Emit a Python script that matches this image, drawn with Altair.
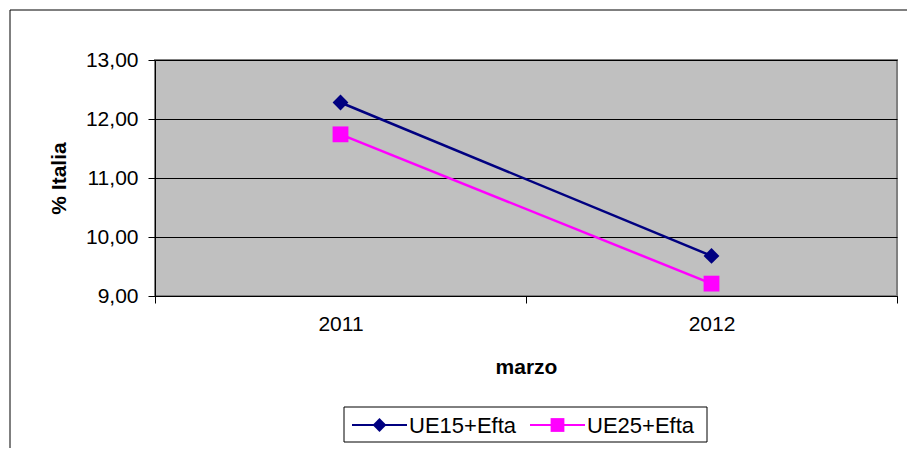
import altair as alt
import pandas as pd

anni = ["2011", "2012"]
ue15_efta = [12.28, 9.68]
ue25_efta = [11.74, 9.21]
serie = ["UE15+Efta", "UE25+Efta"]
colori = ["#000080", "#FF00FF"]
forme = ["diamond", "square"]

rows = []
for s, vals in zip(serie, [ue15_efta, ue25_efta]):
    for a, v in zip(anni, vals):
        rows.append({"anno": a, "valore": v, "serie": s})
df = pd.DataFrame(rows)

FONT = "Liberation Sans"
W, H = 742, 236

x_enc = alt.X(
    "anno:N",
    bandPosition=0.5,
    scale=alt.Scale(type="band", paddingInner=0, paddingOuter=0),
    axis=alt.Axis(
        title="marzo", labelAngle=0, tickBand="extent", grid=False,
        domainColor="black", tickColor="black", tickSize=7,
        labelPadding=10, labelFontSize=21, labelColor="black",
        titleFontSize=21, titleFontWeight="bold", titleColor="black",
        titleBaseline="middle", titleY=71,
    ),
)
y_enc = alt.Y(
    "valore:Q",
    scale=alt.Scale(domain=[9, 13], nice=False, zero=False),
    axis=alt.Axis(
        title="% Italia", values=[9, 10, 11, 12, 13],
        labelExpr="replace(format(datum.value, '.2f'), '.', ',')",
        grid=True, gridColor="black", gridWidth=1,
        domainColor="black", tickColor="black", tickSize=7,
        labelPadding=10, labelFontSize=21, labelColor="black",
        titleFontSize=21, titleFontWeight="bold", titleColor="black",
        titleBaseline="middle", titleX=-96, titleY=118,
    ),
)
color_enc = alt.Color("serie:N", scale=alt.Scale(domain=serie, range=colori), legend=None)
shape_enc = alt.Shape("serie:N", scale=alt.Scale(domain=serie, range=forme), legend=None)

base = alt.Chart(df)

lines = base.mark_line(strokeWidth=2.5).encode(x=x_enc, y=y_enc, color=color_enc)
points = base.mark_point(filled=True, size=250, opacity=1).encode(
    x=x_enc, y=y_enc, color=color_enc, shape=shape_enc
)

# outer chart frame
frame = alt.Chart(pd.DataFrame({"k": [0]})).mark_rect(
    fill="transparent", stroke="black", strokeWidth=1
).encode(
    x=alt.value(-145), x2=alt.value(W + 200), y=alt.value(-50), y2=alt.value(H + 300)
)

# legend (drawn as marks)
legend_box = alt.Chart(pd.DataFrame({"k": [0]})).mark_rect(
    fill="white", stroke="black", strokeWidth=1
).encode(
    x=alt.value(189), x2=alt.value(552), y=alt.value(347), y2=alt.value(382)
)
legend_layers = [legend_box]
entry_x = [197, 375]
for i, s in enumerate(serie):
    ld = alt.Chart(pd.DataFrame({"serie": [s]}))
    x0 = entry_x[i]
    legend_layers.append(
        ld.mark_rule(strokeWidth=2, color=colori[i]).encode(
            x=alt.value(x0), x2=alt.value(x0 + 55), y=alt.value(365)
        )
    )
    legend_layers.append(
        ld.mark_point(filled=True, opacity=1, size=190, color=colori[i], shape=forme[i]).encode(
            x=alt.value(x0 + 27.5), y=alt.value(365)
        )
    )
    legend_layers.append(
        ld.mark_text(align="left", baseline="middle", fontSize=22, color="black", font=FONT, dy=1).encode(
            x=alt.value(x0 + 57), y=alt.value(365), text="serie:N"
        )
    )

chart = alt.layer(frame, lines, points, *legend_layers).properties(
    width=W, height=H,
    autosize=alt.AutoSizeParams(type="none"),
    padding={"left": 147, "top": 52, "right": 10, "bottom": 152},
).configure(
    font=FONT, background="white"
).configure_view(
    fill="#C0C0C0", stroke="#808080", strokeWidth=2
)

chart.save("out.html", embed_options={"renderer": "svg", "actions": False})
